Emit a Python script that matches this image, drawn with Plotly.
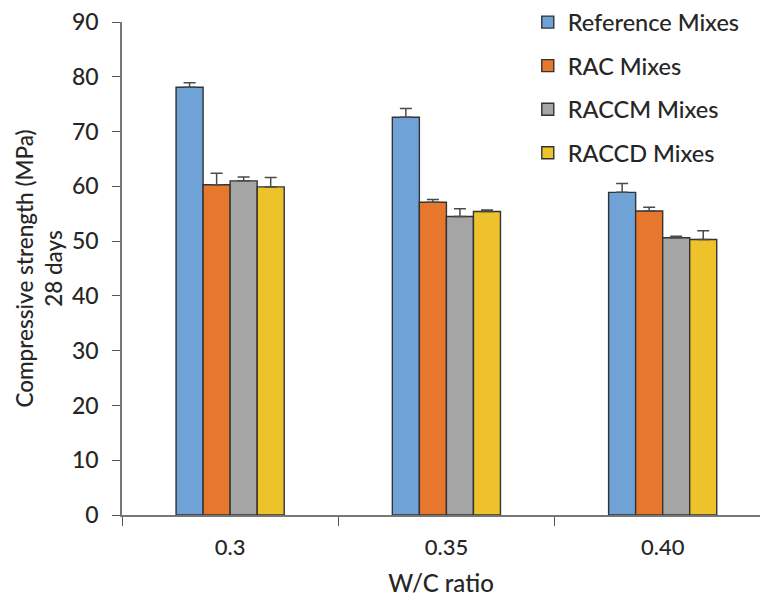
import plotly.graph_objects as go

# W/C ratio groups
categories = ["0.3", "0.35", "0.40"]

# 28-day compressive strength (MPa) and upper error bars per mix type
series_names = ["Reference Mixes", "RAC Mixes", "RACCM Mixes", "RACCD Mixes"]
reference = [78.1, 72.6, 58.9]
rac = [60.3, 57.1, 55.5]
raccm = [61.0, 54.5, 50.6]
raccd = [59.9, 55.4, 50.3]

reference_err = [0.8, 1.6, 1.6]
rac_err = [2.1, 0.5, 0.7]
raccm_err = [0.7, 1.4, 0.3]
raccd_err = [1.7, 0.3, 1.6]

colors = ["#6FA3D8", "#E8772E", "#A5A5A5", "#EDC22B"]

values = [reference, rac, raccm, raccd]
errors = [reference_err, rac_err, raccm_err, raccd_err]

FONT = "Lato"
TXT = "#262626"

fig = go.Figure()
for name, vals, errs, col in zip(series_names, values, errors, colors):
    fig.add_trace(go.Bar(
        name=name,
        x=categories,
        y=vals,
        marker=dict(color=col, line=dict(color="#333333", width=1.4)),
        error_y=dict(type="data", symmetric=False, array=errs,
                     arrayminus=[0] * len(errs),
                     color="#4a4a4a", thickness=1.5, width=6),
        legendgroup=name,
    ))

fig.update_layout(
    width=760, height=597,
    margin=dict(l=122, r=0, t=22, b=82),
    paper_bgcolor="white", plot_bgcolor="white",
    barmode="group", bargap=0.5, bargroupgap=0,
    font=dict(family=FONT, size=21, color=TXT, weight=500),
    showlegend=True,
    legend=dict(
        x=0.636, y=1.044, xanchor="left", yanchor="top",
        font=dict(family=FONT, size=23.5, color=TXT, weight=500),
        tracegroupgap=10, itemwidth=30, bgcolor="rgba(0,0,0,0)",
    ),
    xaxis=dict(
        type="category", range=[-0.5, 2.45],
        tickson="boundaries", ticks="outside", ticklen=9, tickwidth=1.3,
        tickcolor="#555", showline=True, linecolor="#777", linewidth=1.5,
        showgrid=False, zeroline=False, ticklabelstandoff=12, automargin=False,
        tickfont=dict(family=FONT, size=22, color=TXT, weight=500),
        title=dict(text="W/C ratio", font=dict(family=FONT, size=24, color=TXT, weight=500), standoff=22),
    ),
    yaxis=dict(
        range=[0, 90], tickmode="array", tickvals=list(range(0, 91, 10)),
        ticks="outside", ticklen=8, tickwidth=1.3, tickcolor="#555",
        showline=True, linecolor="#777", linewidth=1.5,
        showgrid=False, zeroline=False, ticklabelstandoff=9, automargin=False,
        tickfont=dict(family=FONT, size=23, color=TXT, weight=500),
        title=dict(text="Compressive strength (MPa)<br>28 days",
                   font=dict(family=FONT, size=22.5, color=TXT, weight=500), standoff=3),
    ),
)

fig.write_html("out.html")
